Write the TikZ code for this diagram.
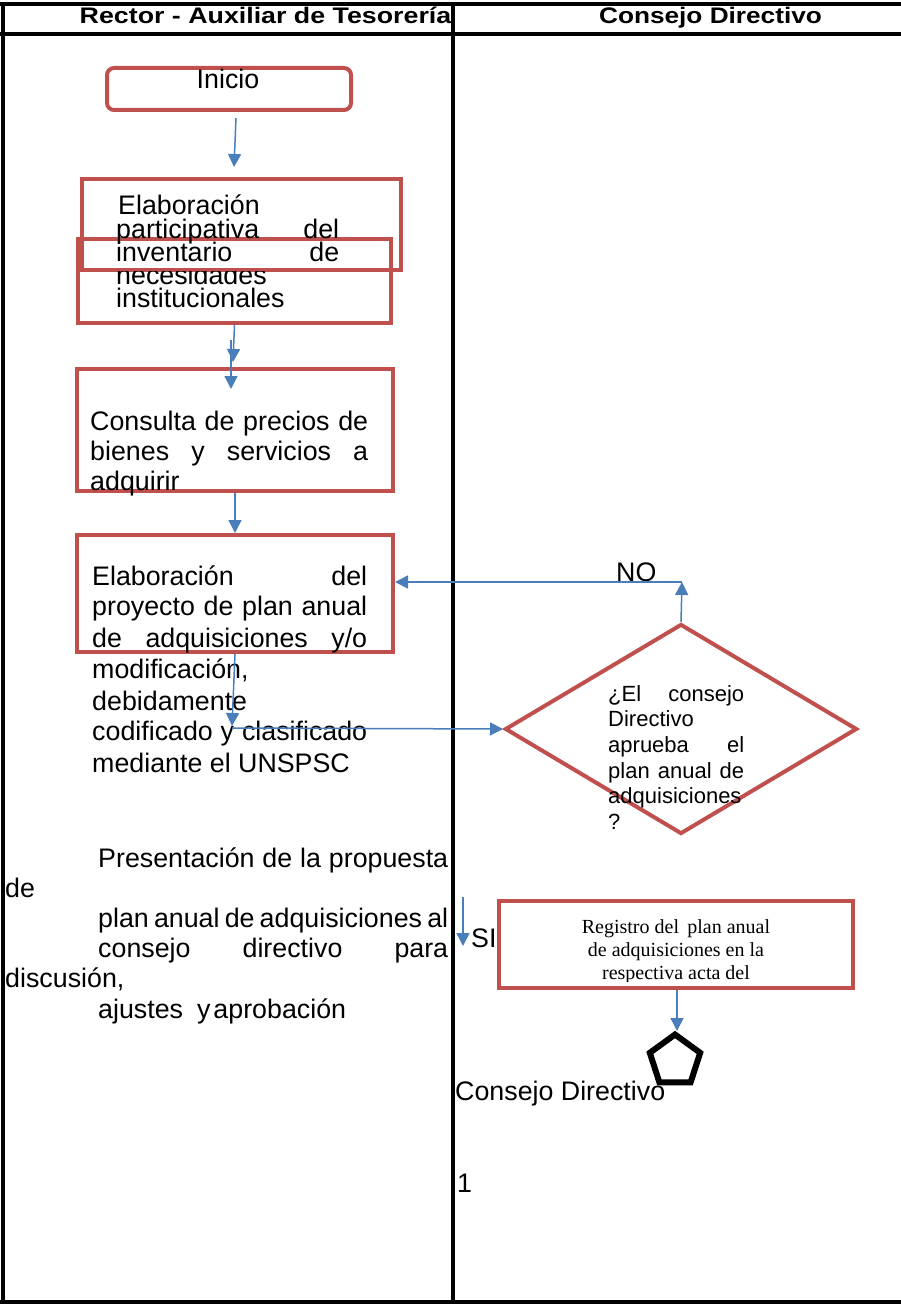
\documentclass[tikz,border=0pt]{standalone}
\usepackage{graphicx}
\usepackage{fontspec}
\setmainfont{Liberation Sans}
\newfontfamily\regserif{Liberation Serif}
\usetikzlibrary{arrows.meta,shapes.geometric}
\definecolor{boxred}{HTML}{C0504D}
\definecolor{connblue}{HTML}{4A7EBB}
\newcommand{\jst}[2]{\makebox[#1][s]{#2}}
\begin{document}
\begin{tikzpicture}[x=1pt,y=-1pt,
  redbox/.style={draw=boxred, line width=4pt, inner sep=0pt, rectangle},
  conn/.style={draw=connblue, line width=1.5pt, -{Triangle[width=13pt,length=13pt]}},
  body/.style={anchor=base west, inner sep=0pt, font=\fontsize{26.8}{31}\selectfont},
  small/.style={anchor=base west, inner sep=0pt, font=\fontsize{22}{26}\selectfont},
  serifsmall/.style={anchor=base, inner sep=0pt, font=\regserif\fontsize{20}{23}\selectfont},
  head/.style={anchor=base, inner sep=0pt},
  tableline/.style={draw=black, line width=4pt}
]
\useasboundingbox (0,0) rectangle (901,1305);
% table
\draw[tableline] (0,4) -- (901,4);
\draw[tableline] (0,34) -- (901,34);
\draw[tableline] (0,1302) -- (901,1302);
\draw[tableline] (3,2) -- (3,1304);
\draw[tableline] (453,2) -- (453,1304);
\node[head] (h1) at (265.5,23.5) {\scalebox{1.19}[1]{\bfseries\fontsize{22.5}{27}\selectfont Rector - Auxiliar de Tesorería}};
\node[head] (h2) at (710.5,23.5) {\scalebox{1.165}[1]{\bfseries\fontsize{22.5}{27}\selectfont Consejo Directivo}};

% boxes
\node[redbox, rounded corners=7pt, minimum width=244pt, minimum height=42pt] (ini) at (229,89) {};
\node[redbox, minimum width=319pt, minimum height=91pt] (b2) at (241.5,224.5) {};
\node[redbox, minimum width=313pt, minimum height=84pt] (b3) at (234.5,281) {};
\node[redbox, minimum width=316pt, minimum height=122pt] (b4) at (235,430) {};
\node[redbox, minimum width=316pt, minimum height=117pt] (b5) at (235,593.5) {};
\node[diamond, draw=boxred, line width=4pt, inner sep=0pt, minimum width=352pt, minimum height=210pt] (dia) at (681,729) {};
\node[redbox, minimum width=354pt, minimum height=87pt] (reg) at (676,944.5) {};
\node[regular polygon, regular polygon sides=5, draw=black, line width=6pt, inner sep=0pt, minimum size=53pt] (pent) at (675,1061) {};

% texts
\node[body, anchor=base] (tini) at (228,89) {Inicio};
\node[body] (t2a) at (118,215) {Elaboración};
\node[body] (t2b) at (116,238.2) {\jst{223pt}{participativa del}};
\node[body] (t2c) at (116,261.4) {\jst{223pt}{inventario de}};
\begin{scope}
\clip (100,272) rectangle (400,300);
\node[body] (t2d) at (116,284.6) {necesidades};
\end{scope}
\node[body] (t2e) at (116,307.8) {institucionales};

\node[body] (t4a) at (90,430) {\jst{278pt}{Consulta de precios de}};
\node[body] (t4b) at (90,460) {\jst{278pt}{bienes y servicios a}};
\node[body] (t4c) at (90,490) {adquirir};

\node[body] (t5a) at (92,585) {\jst{275pt}{Elaboración del}};
\node[body] (t5b) at (92,615) {\jst{275pt}{proyecto de plan anual}};
\node[body] (t5c) at (92,647) {\jst{275pt}{de adquisiciones y/o}};
\node[body] (t5d) at (92,678) {modificación,};
\node[body] (t5e) at (92,710) {debidamente};
\node[body] (t5f) at (92,740) {\jst{275pt}{codificado y clasificado}};
\node[body] (t5g) at (92,772) {mediante el UNSPSC};

\node[small] (d1) at (608,701) {\jst{136pt}{¿El consejo}};
\node[small] (d2) at (608,726) {Directivo};
\node[small] (d3) at (608,752) {\jst{136pt}{aprueba el}};
\node[small] (d4) at (608,778) {\jst{136pt}{plan anual de}};
\node[small] (d5) at (608,803) {adquisiciones};
\node[small] (d6) at (608,829) {?};

\node[body] (p1) at (98,867) {\jst{350pt}{Presentación de la propuesta}};
\node[body] (p2) at (5,897) {de};
\node[body] (p3) at (98,927) {\jst{350pt}{plan anual de adquisiciones al}};
\node[body] (p4) at (98,957) {\jst{350pt}{consejo directivo para}};
\node[body] (p5) at (5,987) {discusión,};
\node[body] (p6) at (98,1018) {ajustes\hspace{14pt}y\hspace{3pt}aprobación};

\node[body] (tno) at (616,581) {NO};
\node[body] (tsi) at (471,947) {SI};

\begin{scope}
\clip (500,900) rectangle (852,981);
\node[serifsmall] (r1) at (676,933) {Registro del\, plan anual};
\node[serifsmall] (r2) at (676,956.5) {de adquisiciones en la};
\node[serifsmall] (r3) at (676,979.5) {respectiva acta del};
\end{scope}

\node[body] (tcd) at (455,1100) {Consejo Directivo};
\node[body] (tone) at (457,1192) {1};

% connectors
\coordinate (c1) at (236,118);
\coordinate (c2) at (234,167);
\coordinate (c3) at (233,362);
\coordinate (c4) at (231,340);
\coordinate (c5) at (231,389);
\coordinate (c6) at (232,726);
\coordinate (c7) at (232,728);
\coordinate (c8) at (682,582);
\coordinate (c9) at (463,897);
\coordinate (c10) at (463,946);
\coordinate (c11) at (677,1031);
\draw[conn] (c1) -- (c2);
\draw[conn] (b3.south) -- (c3);
\draw[conn] (c4) -- (c5);
\draw[conn] (b4.south) -- (b5.north);
\draw[conn] (b5.south) -- (c6);
\draw[conn] (c7) -- (dia.west);
\draw[conn] (dia.north) -- (c8);
\draw[conn] (c8) -- (b5.east |- c8);
\draw[conn] (c9) -- (c10);
\draw[conn] (reg.south -| c11) -- (c11);
\end{tikzpicture}
\end{document}
